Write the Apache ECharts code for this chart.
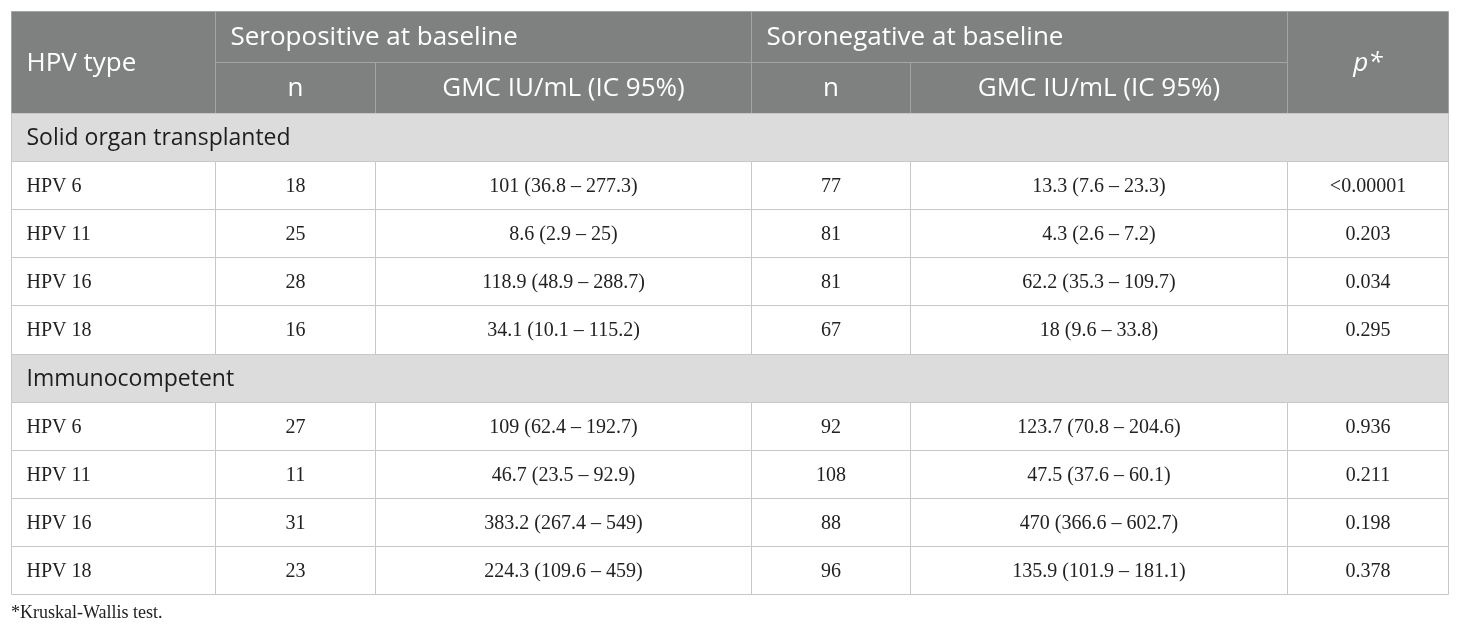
<!DOCTYPE html>
<html>
<head>
<meta charset="utf-8">
<script src="https://cdn.jsdelivr.net/npm/echarts@6/dist/echarts.min.js"></script>
<style>
html,body{margin:0;padding:0;background:#fff;}
#chart{width:1460px;height:629px;}
</style>
</head>
<body>
<div id="chart"></div>
<script>
// ---- Data ----
const groupNames = ['Solid organ transplanted', 'Immunocompetent'];
const hpvTypes = ['HPV 6', 'HPV 11', 'HPV 16', 'HPV 18'];
const seroN = [[18, 25, 28, 16], [27, 11, 31, 23]];
const seroGMC = [[101, 8.6, 118.9, 34.1], [109, 46.7, 383.2, 224.3]];
const seroLow = [[36.8, 2.9, 48.9, 10.1], [62.4, 23.5, 267.4, 109.6]];
const seroHigh = [[277.3, 25, 288.7, 115.2], [192.7, 92.9, 549, 459]];
const soroN = [[77, 81, 81, 67], [92, 108, 88, 96]];
const soroGMC = [[13.3, 4.3, 62.2, 18], [123.7, 47.5, 470, 135.9]];
const soroLow = [[7.6, 2.6, 35.3, 9.6], [70.8, 37.6, 366.6, 101.9]];
const soroHigh = [[23.3, 7.2, 109.7, 33.8], [204.6, 60.1, 602.7, 181.1]];
const pValues = [['<0.00001', '0.203', '0.034', '0.295'], ['0.936', '0.211', '0.198', '0.378']];
const headerTop = ['HPV type', 'Seropositive at baseline', 'Soronegative at baseline', 'p*'];
const headerSub = ['n', 'GMC IU/mL (IC 95%)', 'n', 'GMC IU/mL (IC 95%)'];
const footnote = '*Kruskal-Wallis test.';

// ---- Layout (pixel-mapped axis units) ----
const colX = [11, 215, 375, 751, 910, 1287, 1448];
const hTop = 11, hMid = 62, hBot = 113;
const rowH = 48.1;

const SANS = '"Open Sans", "Noto Sans", Lato, sans-serif';
const SERIF = '"Liberation Serif", "DejaVu Serif", serif';
const HEAD_BG = '#7f8180';
const HEAD_LINE = '#a3a5a4';
const SEC_BG = '#dcdcdc';
const LINE = '#c8c8c8';

const fmt = (g, l, h) => `${g} (${l} \u2013 ${h})`;

const cells = [];
function cell(x0, y0, x1, y1, text, kind, align) {
  cells.push({ value: [x0, y0, x1, y1], text: text, kind: kind, align: align });
}
// header
cell(colX[0], hTop, colX[1], hBot, headerTop[0], 'head', 'left');
cell(colX[1], hTop, colX[3], hMid, headerTop[1], 'head', 'left');
cell(colX[3], hTop, colX[5], hMid, headerTop[2], 'head', 'left');
cell(colX[5], hTop, colX[6], hBot, headerTop[3], 'headItalic', 'center');
for (let i = 0; i < 4; i++) cell(colX[i + 1], hMid, colX[i + 2], hBot, headerSub[i], 'head', 'center');
// body
let y = hBot;
groupNames.forEach((g, gi) => {
  cell(colX[0], y, colX[6], y + rowH, g, 'section', 'left');
  y += rowH;
  hpvTypes.forEach((t, ri) => {
    const vals = [
      t,
      String(seroN[gi][ri]),
      fmt(seroGMC[gi][ri], seroLow[gi][ri], seroHigh[gi][ri]),
      String(soroN[gi][ri]),
      fmt(soroGMC[gi][ri], soroLow[gi][ri], soroHigh[gi][ri]),
      pValues[gi][ri]
    ];
    vals.forEach((v, ci) => cell(colX[ci], y, colX[ci + 1], y + rowH, v, 'body', ci === 0 ? 'left' : 'center'));
    y += rowH;
  });
});

function renderItem(params, api) {
  const d = cells[params.dataIndex];
  const p0 = api.coord([d.value[0], d.value[1]]);
  const p1 = api.coord([d.value[2], d.value[3]]);
  const x0 = Math.round(p0[0]) + 0.5, y0 = Math.round(p0[1]) + 0.5;
  const x1 = Math.round(p1[0]) + 0.5, y1 = Math.round(p1[1]) + 0.5;
  const w = x1 - x0, h = y1 - y0;
  let fill = '#fff', stroke = LINE, font, color = '#222', style = 'normal', size;
  if (d.kind === 'head' || d.kind === 'headItalic') {
    fill = HEAD_BG; stroke = HEAD_LINE; color = '#ffffff';
    font = SANS; size = 26;
    if (d.kind === 'headItalic') style = 'italic';
  } else if (d.kind === 'section') {
    fill = SEC_BG; font = SANS; size = 23; color = '#1e1e1e';
  } else {
    font = SERIF; size = 20; color = '#222';
  }
  const tx = d.align === 'left' ? x0 + 15 : x0 + w / 2;
  return {
    type: 'group',
    children: [
      { type: 'rect', shape: { x: x0, y: y0, width: w, height: h }, style: { fill: fill, stroke: stroke, lineWidth: 1 } },
      { type: 'text', style: { text: d.text, x: tx, y: y0 + h / 2 + 1, align: d.align, verticalAlign: 'middle',
          fontFamily: font, fontSize: size, fontStyle: style, fill: color } }
    ]
  };
}

const chart = echarts.init(document.getElementById('chart'), null, { renderer: 'canvas' });
chart.setOption({
  animation: false,
  backgroundColor: '#ffffff',
  grid: { left: 0, right: 0, top: 0, bottom: 0 },
  xAxis: { type: 'value', min: 0, max: 1460, show: false },
  yAxis: { type: 'value', min: 0, max: 629, inverse: true, show: false },
  graphic: [{
    type: 'text', left: 11, top: 604,
    style: { text: footnote, fontFamily: SERIF, fontSize: 18, fill: '#222' }
  }],
  series: [{
    type: 'custom',
    coordinateSystem: 'cartesian2d',
    renderItem: renderItem,
    data: cells.map(c => c.value),
    clip: false,
    silent: true
  }]
});
</script>
</body>
</html>
